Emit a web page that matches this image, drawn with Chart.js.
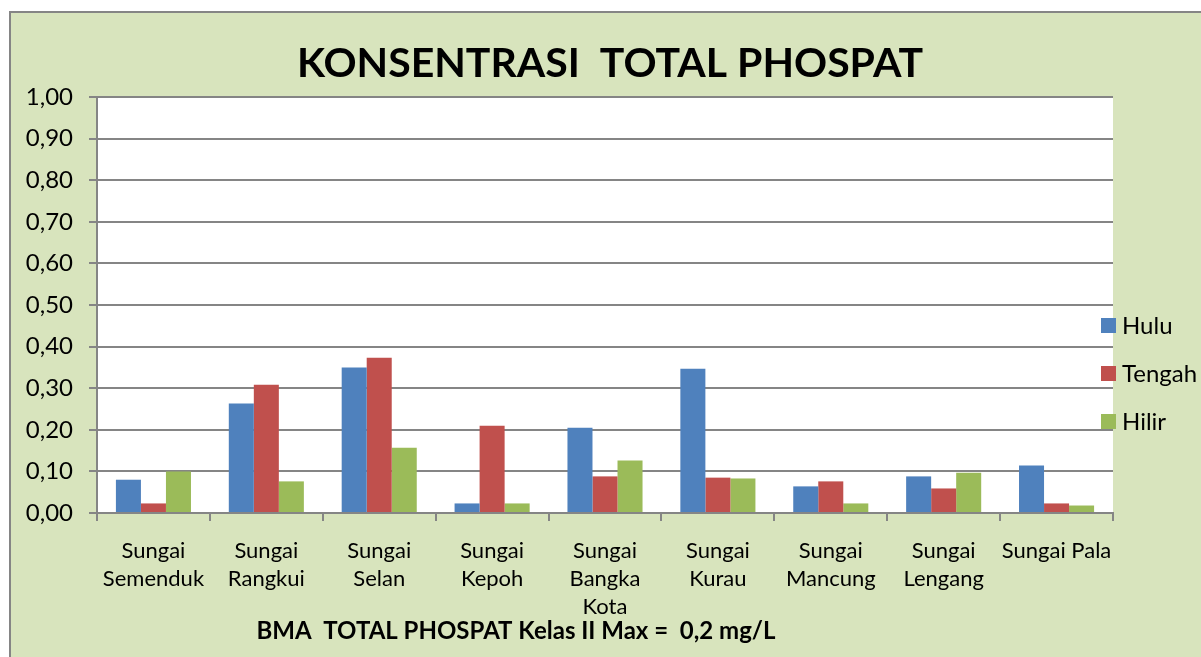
<!DOCTYPE html>
<html>
<head>
<meta charset="utf-8">
<title>Konsentrasi Total Phospat</title>
<script src="https://cdn.jsdelivr.net/npm/chart.js@4.4.1/dist/chart.umd.min.js"></script>
<style>
    html, body { margin: 0; padding: 0; background: #ffffff; }
    #wrap { width: 1201px; height: 657px; position: relative; }
</style>
</head>
<body>
<div id="wrap"><canvas id="phospatChart"></canvas></div>
<script>
// data
var categories = [
    ['Sungai', 'Semenduk'],
    ['Sungai', 'Rangkui'],
    ['Sungai', 'Selan'],
    ['Sungai', 'Kepoh'],
    ['Sungai', 'Bangka', 'Kota'],
    ['Sungai', 'Kurau'],
    ['Sungai', 'Mancung'],
    ['Sungai', 'Lengang'],
    'Sungai Pala'
];
var seriesNames = ['Hulu', 'Tengah', 'Hilir'];
var hulu = [0.080, 0.263, 0.350, 0.023, 0.205, 0.347, 0.064, 0.088, 0.114];
var tengah = [0.023, 0.308, 0.373, 0.210, 0.088, 0.085, 0.076, 0.059, 0.023];
var hilir = [0.100, 0.076, 0.157, 0.023, 0.126, 0.083, 0.023, 0.097, 0.018];
var yTicks = [0, 0.1, 0.2, 0.3, 0.4, 0.5, 0.6, 0.7, 0.8, 0.9, 1.0];
var chartTitle = 'KONSENTRASI  TOTAL PHOSPAT';
var noteText = 'BMA  TOTAL PHOSPAT Kelas II Max =  0,2 mg/L';

document.addEventListener('DOMContentLoaded', function() {
    "use strict";

    var gridGray = '#858585';
    var panelGreen = '#d8e4bd';
    var fontFamily = 'Lato, Carlito, "Open Sans", sans-serif';

    Chart.defaults.font.family = fontFamily;
    Chart.defaults.color = '#000000';

    // green frame behind the chart, white plot area
    var background = {
        id: 'background',
        beforeDraw: function(chart) {
            var ctx = chart.ctx;
            var a = chart.chartArea;
            ctx.save();
            ctx.fillStyle = '#ffffff';
            ctx.fillRect(0, 0, chart.width, chart.height);
            ctx.fillStyle = panelGreen;
            ctx.fillRect(11, 13, chart.width - 11, chart.height - 13);
            ctx.strokeStyle = gridGray;
            ctx.lineWidth = 2;
            ctx.beginPath();
            ctx.moveTo(10, chart.height);
            ctx.lineTo(10, 12);
            ctx.lineTo(chart.width, 12);
            ctx.stroke();
            ctx.fillStyle = '#ffffff';
            ctx.fillRect(a.left, a.top, a.right - a.left, a.bottom - a.top);
            ctx.restore();
        }
    };

    // title, legend on the right and the note under the axis
    var extras = {
        id: 'extras',
        afterDraw: function(chart) {
            var ctx = chart.ctx;
            var a = chart.chartArea;
            ctx.save();
            ctx.fillStyle = '#000000';
            ctx.textBaseline = 'middle';
            ctx.textAlign = 'center';
            ctx.font = 'bold 41px ' + fontFamily;
            ctx.fillText(chartTitle, 610, 64);

            ctx.font = '24px ' + fontFamily;
            ctx.textAlign = 'left';
            chart.data.datasets.forEach(function(ds, i) {
                var y = 325 + i * 48;
                ctx.fillStyle = ds.backgroundColor;
                ctx.fillRect(a.right - 12, y - 7, 15, 15);
                ctx.fillStyle = '#000000';
                ctx.fillText(ds.label, a.right + 9, y + 1);
            });

            ctx.font = 'bold 24px ' + fontFamily;
            ctx.textAlign = 'center';
            ctx.fillText(noteText, 516, 631);
            ctx.restore();
        }
    };

    var ctxPhospat = document.getElementById('phospatChart').getContext('2d');
    new Chart(ctxPhospat, {
        type: 'bar',
        data: {
            labels: categories,
            datasets: [
                { label: seriesNames[0], data: hulu, backgroundColor: '#4f81bd' },
                { label: seriesNames[1], data: tengah, backgroundColor: '#c0504d' },
                { label: seriesNames[2], data: hilir, backgroundColor: '#9bbb59' }
            ]
        },
        options: {
            responsive: true,
            maintainAspectRatio: false,
            animation: false,
            layout: { padding: { left: 0, right: 88, top: 97, bottom: 0 } },
            datasets: {
                bar: { categoryPercentage: 0.665, barPercentage: 1.0 }
            },
            plugins: {
                legend: { display: false },
                tooltip: { enabled: false },
                title: { display: false }
            },
            scales: {
                x: {
                    grid: {
                        display: true,
                        drawOnChartArea: false,
                        drawTicks: true,
                        tickLength: 8,
                        color: gridGray,
                        lineWidth: 2
                    },
                    border: { display: true, color: gridGray, width: 2 },
                    ticks: {
                        font: { size: 22, lineHeight: 1.27 },
                        padding: 16,
                        maxRotation: 0,
                        autoSkip: false
                    },
                    afterFit: function(scale) { scale.height = 144; }
                },
                y: {
                    min: 0,
                    max: 1,
                    afterBuildTicks: function(scale) {
                        scale.ticks = yTicks.map(function(v) { return { value: v }; });
                    },
                    grid: {
                        color: gridGray,
                        lineWidth: 2,
                        tickLength: 8
                    },
                    border: { display: true, color: gridGray, width: 2 },
                    ticks: {
                        font: { size: 24 },
                        padding: 16,
                        callback: function(v) { return v.toFixed(2).replace('.', ','); }
                    },
                    afterFit: function(scale) { scale.width = 97; }
                }
            }
        },
        plugins: [background, extras]
    });
});
</script>
</body>
</html>
